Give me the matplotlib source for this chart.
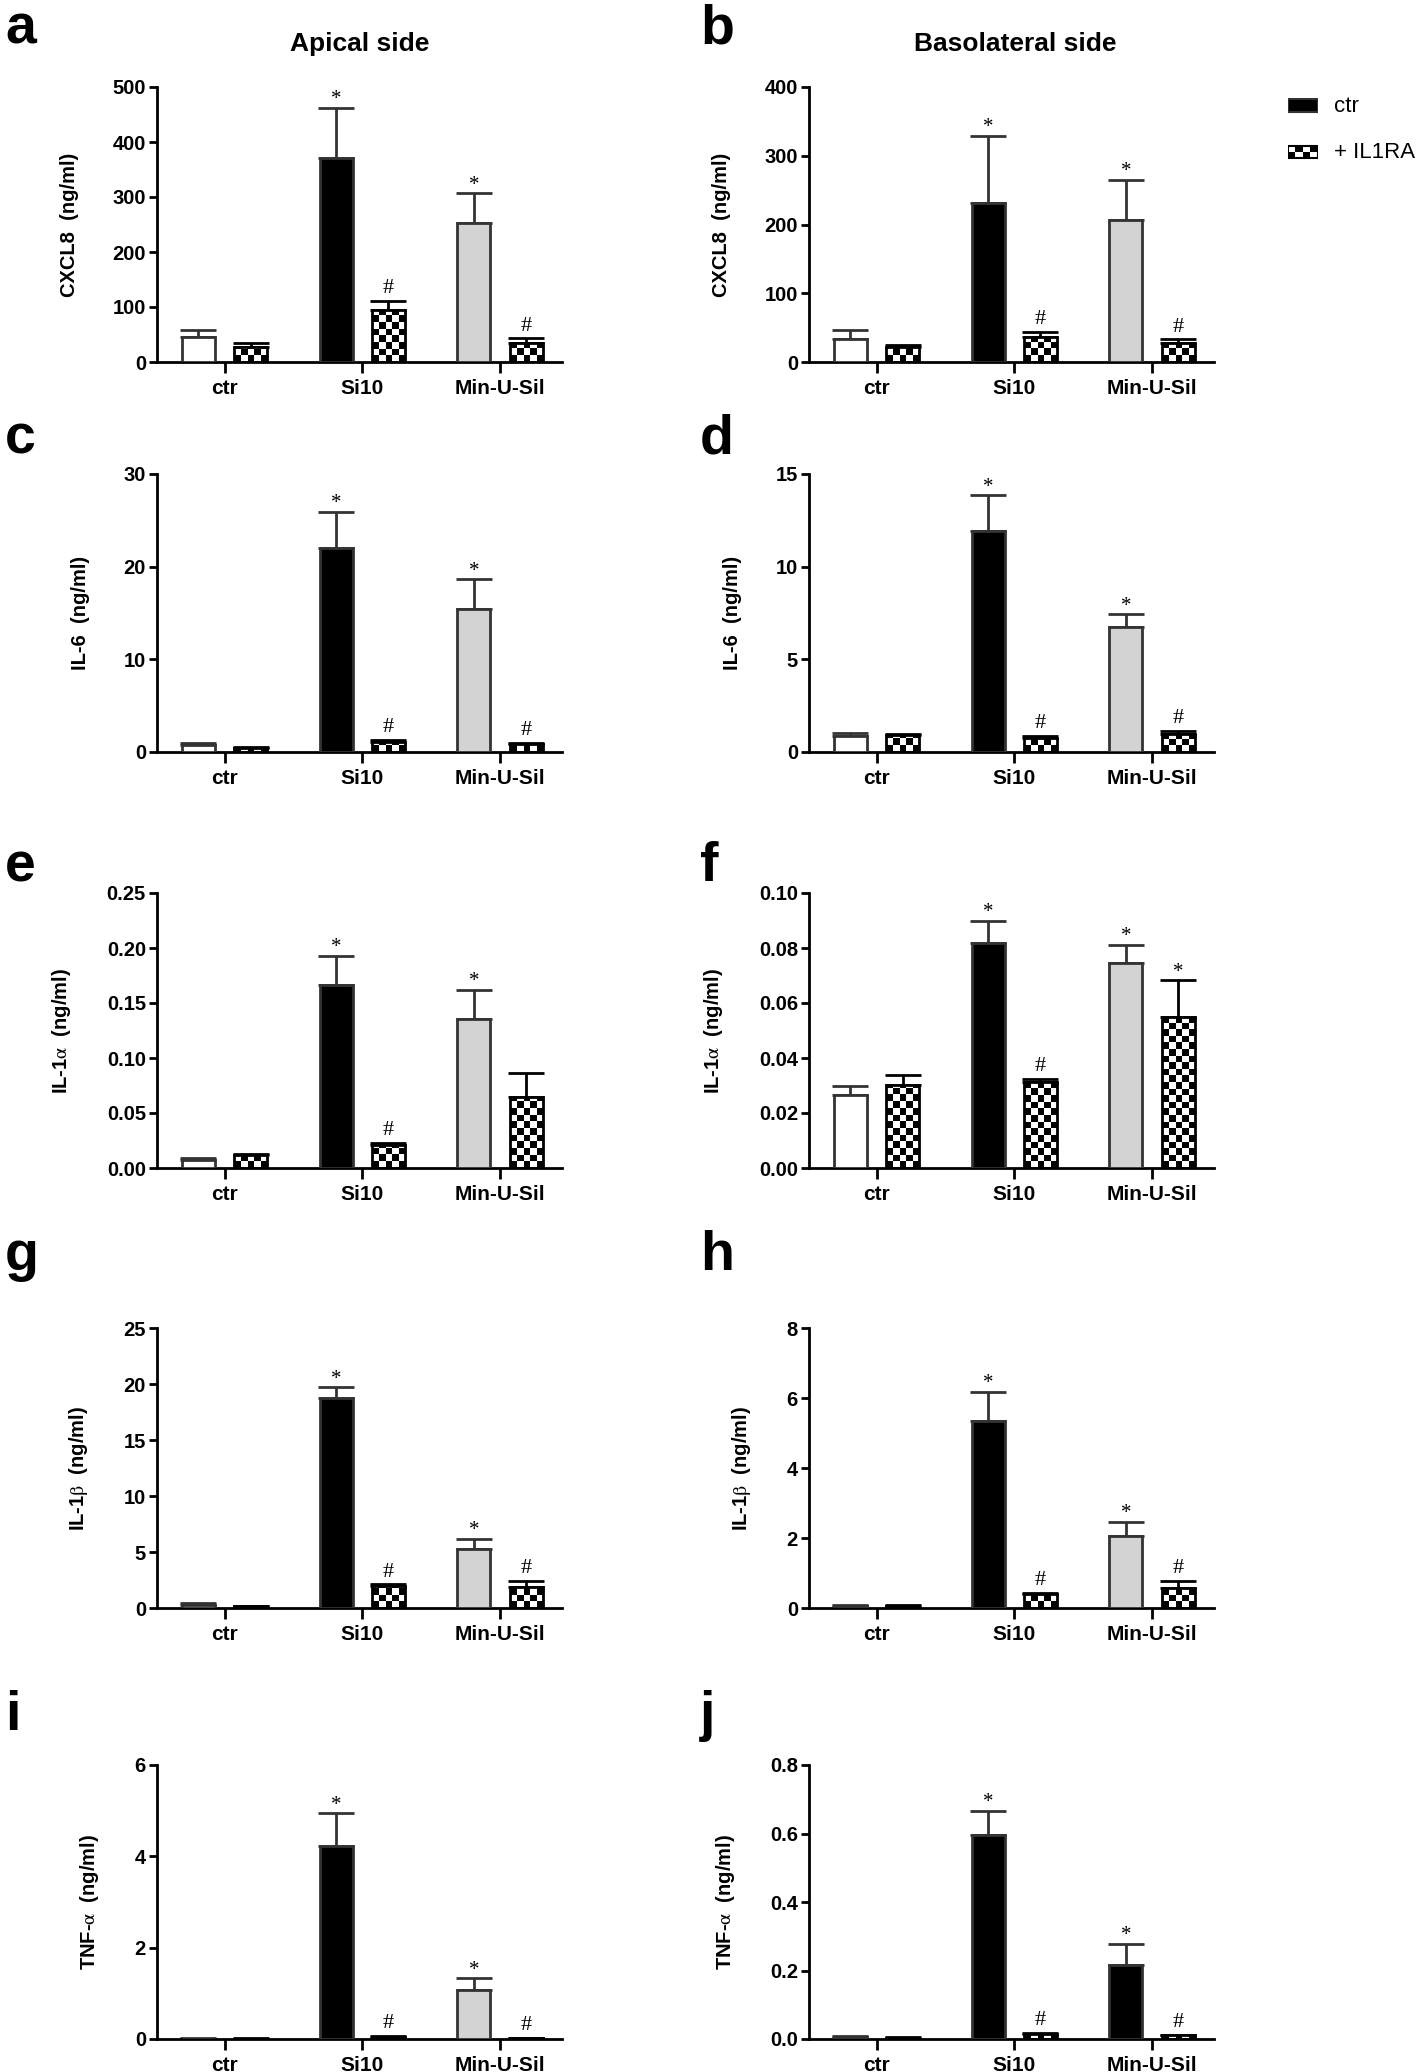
import numpy as np
import matplotlib
matplotlib.use("Agg")
import matplotlib.pyplot as plt
from matplotlib.patches import Rectangle

plt.rcParams['font.family'] = ['Liberation Sans', 'DejaVu Sans']
plt.rcParams['mathtext.fontset'] = 'stix'

groups = ['ctr', 'Si10', 'Min-U-Sil']

# means and upper SEM, [ctr, Si10, Min-U-Sil]
a_ctr = [46, 371, 252];          a_ctr_err = [13, 91, 55]
a_ra = [27, 94, 35];             a_ra_err = [7, 17, 8]
b_ctr = [33, 232, 206];          b_ctr_err = [13, 97, 59]
b_ra = [22, 37, 27];             b_ra_err = [3, 7, 6]
c_ctr = [0.73, 22.0, 15.4];      c_ctr_err = [0.22, 3.9, 3.25]
c_ra = [0.4, 1.09, 0.87];        c_ra_err = [0.18, 0.21, 0.11]
d_ctr = [0.84, 11.9, 6.76];      d_ctr_err = [0.18, 1.95, 0.68]
d_ra = [0.93, 0.78, 0.96];       d_ra_err = [0.05, 0.07, 0.17]
e_ctr = [0.0076, 0.1667, 0.1355]; e_ctr_err = [0.0012, 0.026, 0.0265]
e_ra = [0.0115, 0.0212, 0.065];  e_ra_err = [0.0015, 0.0018, 0.0214]
f_ctr = [0.0267, 0.0818, 0.0745]; f_ctr_err = [0.0033, 0.008, 0.0066]
f_ra = [0.0302, 0.0312, 0.0549]; f_ra_err = [0.0038, 0.0012, 0.0133]
g_ctr = [0.24, 18.74, 5.29];     g_ctr_err = [0.24, 0.96, 0.88]
g_ra = [0.15, 1.93, 1.87];       g_ra_err = [0.06, 0.17, 0.58]
h_ctr = [0.07, 5.34, 2.05];      h_ctr_err = [0.03, 0.84, 0.42]
h_ra = [0.05, 0.41, 0.57];       h_ra_err = [0.03, 0.03, 0.2]
i_ctr = [0.01, 4.22, 1.07];      i_ctr_err = [0.005, 0.72, 0.26]
i_ra = [0.01, 0.044, 0.02];      i_ra_err = [0.005, 0.022, 0.01]
j_ctr = [0.006, 0.596, 0.217];   j_ctr_err = [0.004, 0.071, 0.061]
j_ra = [0.004, 0.0155, 0.0107];  j_ra_err = [0.002, 0.0025, 0.002]

ylabels = ['CXCL8  (ng/ml)', 'IL-6  (ng/ml)', r'IL-1$\mathrm{\alpha}$  (ng/ml)',
           r'IL-1$\mathrm{\beta}$  (ng/ml)', r'TNF-$\mathrm{\alpha}$  (ng/ml)']

W, H = 1418, 2072
fig = plt.figure(figsize=(W / 100, H / 100), dpi=100)

col_left = [157, 809]
ax_w = 405
rows = [(87, 362), (474, 752), (893, 1168), (1328, 1608), (1765, 2039)]

panels = [
    ('a', a_ctr, a_ctr_err, a_ra, a_ra_err, 500, 100, '%d', ['', '*', '*'], ['', '#', '#'], False),
    ('b', b_ctr, b_ctr_err, b_ra, b_ra_err, 400, 100, '%d', ['', '*', '*'], ['', '#', '#'], False),
    ('c', c_ctr, c_ctr_err, c_ra, c_ra_err, 30, 10, '%d', ['', '*', '*'], ['', '#', '#'], False),
    ('d', d_ctr, d_ctr_err, d_ra, d_ra_err, 15, 5, '%d', ['', '*', '*'], ['', '#', '#'], False),
    ('e', e_ctr, e_ctr_err, e_ra, e_ra_err, 0.25, 0.05, '%.2f', ['', '*', '*'], ['', '#', ''], False),
    ('f', f_ctr, f_ctr_err, f_ra, f_ra_err, 0.10, 0.02, '%.2f', ['', '*', '*'], ['', '#', '*'], False),
    ('g', g_ctr, g_ctr_err, g_ra, g_ra_err, 25, 5, '%d', ['', '*', '*'], ['', '#', '#'], False),
    ('h', h_ctr, h_ctr_err, h_ra, h_ra_err, 8, 2, '%d', ['', '*', '*'], ['', '#', '#'], False),
    ('i', i_ctr, i_ctr_err, i_ra, i_ra_err, 6, 2, '%d', ['', '*', '*'], ['', '#', '#'], False),
    ('j', j_ctr, j_ctr_err, j_ra, j_ra_err, 0.8, 0.2, '%.1f', ['', '*', '*'], ['', '#', '#'], True),
]
letter_y = [43, 453, 881, 1270, 1730]

bw = 0.24
off = 0.19
edge = '#333333'


def checker(ax, bar, cell=6.6):
    x0, w, h = bar.get_x(), bar.get_width(), bar.get_height()
    p0 = ax.transData.transform((x0, 0))
    p1 = ax.transData.transform((x0 + w, h))
    ncol = max(1, int(round((p1[0] - p0[0]) / cell)))
    cw = (p1[0] - p0[0]) / ncol
    nrow = int(np.ceil((p1[1] - p0[1]) / cw)) + 1
    ytop = ax.transData.inverted().transform((p0[0], p0[1] + nrow * cw))[1]
    img = np.indices((nrow, ncol)).sum(axis=0) % 2
    im = ax.imshow(img, cmap='gray', vmin=0, vmax=1, extent=[x0, x0 + w, 0, ytop],
                   origin='lower', aspect='auto', interpolation='nearest', zorder=2)
    im.set_clip_path(bar)


for k, (lab, mc, ec, mr, er, ymax, step, fmt, sc, sr, alt) in enumerate(panels):
    r, c = divmod(k, 2)
    top, bot = rows[r]
    ax = fig.add_axes([col_left[c] / W, 1 - bot / H, ax_w / W, (bot - top) / H])
    x = np.arange(len(groups))
    ax.set_xlim(-0.49, 2.45)
    ax.set_ylim(0, ymax)

    fills = ['white', 'black', 'black' if alt else '#d3d3d3']
    ax.bar(x - off, mc, bw, color=fills, edgecolor=edge, linewidth=2, zorder=3)
    ax.errorbar(x - off, mc, yerr=[np.zeros(3), ec], fmt='none', ecolor=edge,
                elinewidth=2, capsize=13, capthick=2, zorder=2)
    b2 = ax.bar(x + off, mr, bw, color='white', edgecolor='none', zorder=1)
    ax.errorbar(x + off, mr, yerr=[np.zeros(3), er], fmt='none', ecolor='black',
                elinewidth=2, capsize=13, capthick=2, zorder=2)
    for bar in b2:
        checker(ax, bar)
    ax.bar(x + off, mr, bw, fill=False, edgecolor='black', linewidth=2, zorder=4)

    for xs, vals, errs, marks in [(x - off, mc, ec, sc), (x + off, mr, er, sr)]:
        for xi, v, e, m in zip(xs, vals, errs, marks):
            if m:
                ax.annotate(m, (xi, v + e), xytext=(0, 2 if m == '#' else -1),
                            textcoords='offset points', ha='center', va='bottom',
                            fontsize=16 if m == '#' else 15, family='Liberation Serif')

    ax.set_xlim(-0.49, 2.45)
    ax.set_ylim(0, ymax)
    ax.set_yticks(np.arange(0, ymax + step / 2, step))
    ax.yaxis.set_major_formatter(matplotlib.ticker.FormatStrFormatter(fmt))
    ax.set_xticks(x)
    ax.set_xticklabels(groups)
    for s in ['top', 'right']:
        ax.spines[s].set_visible(False)
    for s in ['left', 'bottom']:
        ax.spines[s].set_linewidth(2)
    ax.tick_params(axis='y', length=6, width=2, labelsize=14.5, pad=2)
    ax.tick_params(axis='x', length=8, width=2, labelsize=15, pad=4)
    for t in ax.get_xticklabels() + ax.get_yticklabels():
        t.set_fontweight('bold')
    ax.set_ylabel(ylabels[r], fontsize=14.5, fontweight='bold', labelpad=24)

    lx = 5 if c == 0 else 700
    fig.text(lx / W, 1 - letter_y[r] / H, lab, fontsize=40, fontweight='bold',
             ha='left', va='baseline')

fig.text(360 / W, 1 - 44 / H, 'Apical side', fontsize=19, fontweight='bold',
         ha='center', va='center')
fig.text(1015 / W, 1 - 44 / H, 'Basolateral side', fontsize=19, fontweight='bold',
         ha='center', va='center')

# legend
lax = fig.add_axes([1288 / W, 1 - 160 / H, 30 / W, 62 / H])
lax.set_xlim(0, 1)
lax.set_ylim(0, 1)
lax.axis('off')
lax.add_patch(Rectangle((0, 0.77), 1, 0.21, facecolor='black', edgecolor=edge, linewidth=1.5))
box = Rectangle((0, 0.03), 1, 0.19, facecolor='white', edgecolor='none')
lax.add_patch(box)
leg_img = np.indices((2, 4)).sum(axis=0) % 2
im = lax.imshow(leg_img, cmap='gray', vmin=0, vmax=1, extent=[0, 1, 0.03, 0.22],
                origin='lower', aspect='auto', interpolation='nearest', zorder=3)
im.set_clip_path(box)
lax.add_patch(Rectangle((0, 0.03), 1, 0.19, fill=False, edgecolor='black',
                        linewidth=1.5, zorder=4))
lax.set_xlim(0, 1)
lax.set_ylim(0, 1)
fig.text(1334 / W, 1 - 107 / H, 'ctr', fontsize=16, ha='left', va='center')
fig.text(1334 / W, 1 - 152 / H, '+ IL1RA', fontsize=16, ha='left', va='center')

fig.savefig('out.png', dpi=100)
